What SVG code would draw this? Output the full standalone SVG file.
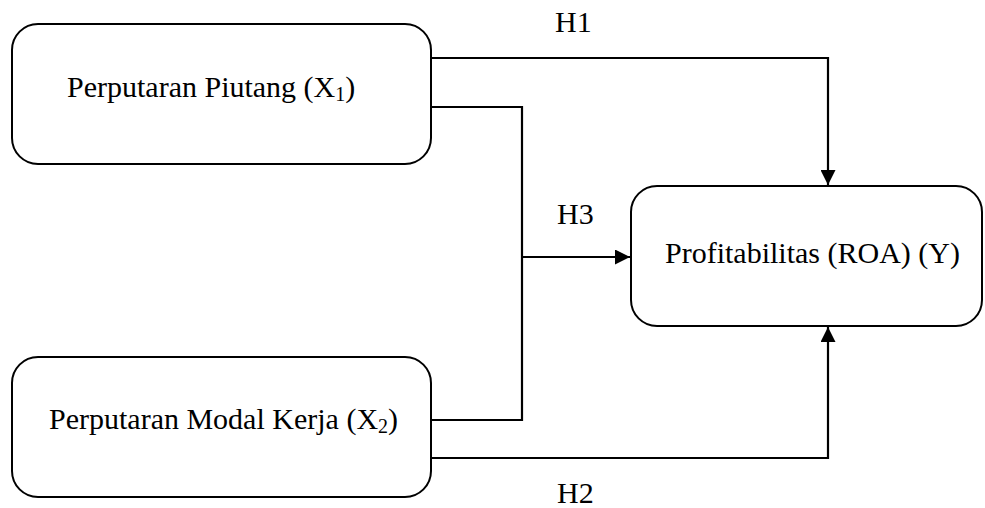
<svg xmlns="http://www.w3.org/2000/svg" width="985" height="508" viewBox="0 0 985 508">
<style>
.box{fill:#fff;stroke:#000;stroke-width:2}
.ln{fill:none;stroke:#000;stroke-width:2.2}
text{font-family:"Liberation Serif","Times New Roman",serif;font-size:30px;fill:#000}
.sub{font-size:20px}
</style>
<defs>
<marker id="ah" markerWidth="15" markerHeight="15" refX="15" refY="7.5" orient="auto" markerUnits="userSpaceOnUse">
<path d="M0,0 L15,7.5 L0,15 Z" fill="#000"/>
</marker>
</defs>
<g id="connectors">
<path class="ln" d="M431,58 H828 V185" marker-end="url(#ah)"/>
<path class="ln" d="M431,107 H522 V420 H431"/>
<path class="ln" d="M522,257 H630" marker-end="url(#ah)"/>
<path class="ln" d="M431,458 H828 V327" marker-end="url(#ah)"/>
<text x="555" y="32">H1</text>
<text x="557" y="224">H3</text>
<text x="557" y="503">H2</text>
</g>
<g id="x1">
<rect class="box" x="12" y="24" width="419" height="140" rx="26"/>
<text x="67" y="97">Perputaran Piutang (X<tspan class="sub" dy="4">1</tspan><tspan dy="-4">)</tspan></text>
</g>
<g id="x2">
<rect class="box" x="12" y="357" width="419" height="140" rx="26"/>
<text x="49" y="429">Perputaran Modal Kerja (X<tspan class="sub" dy="4">2</tspan><tspan dy="-4">)</tspan></text>
</g>
<g id="y">
<rect class="box" x="631" y="186" width="351" height="140" rx="26"/>
<text x="665" y="263">Profitabilitas (ROA) (Y)</text>
</g>
</svg>
